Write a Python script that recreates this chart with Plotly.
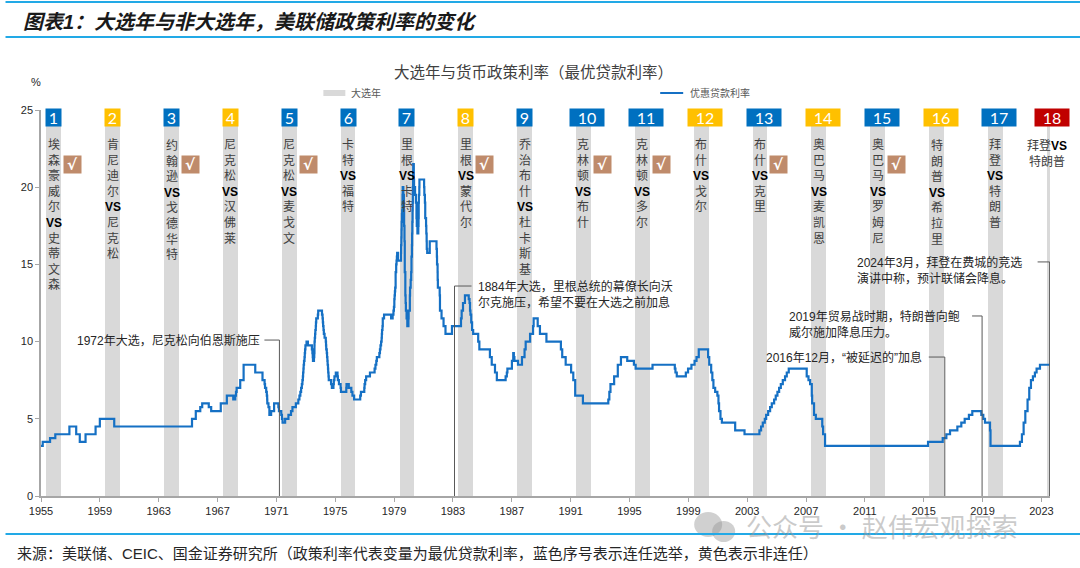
import plotly.graph_objects as go

# ---------------- canvas / plot-area geometry (pixels) ----------------
W, H = 1080, 568
L, R, T, B = 40.5, 1050.0, 110.0, 496.0
PW, PH = R - L, B - T


def px(xp):
    return (xp - L) / PW


def py(yp):
    return (B - yp) / PH


# ---------------- data ----------------
# US bank prime loan rate (%), change points
rate_dates = [
    "1955-08-04", "1955-10-14", "1956-04-13", "1956-08-21", "1957-08-06", "1958-01-22", "1958-04-21",
    "1958-09-11", "1959-05-18", "1959-09-01", "1960-08-23", "1965-12-06", "1966-03-10", "1966-06-29",
    "1966-08-16", "1967-01-26", "1967-03-27", "1967-11-20", "1968-04-19", "1968-09-25", "1968-11-13",
    "1968-12-02", "1968-12-18", "1969-03-17", "1969-06-09", "1970-03-25", "1970-09-21", "1970-11-12",
    "1970-11-23", "1970-12-22", "1971-01-06", "1971-01-15", "1971-01-18", "1971-02-16", "1971-03-11",
    "1971-04-23", "1971-07-06", "1971-10-20", "1971-11-04", "1971-12-31", "1972-01-17", "1972-02-01",
    "1972-04-05", "1972-06-26", "1972-08-29", "1972-10-04", "1972-12-27", "1973-02-26", "1973-03-26",
    "1973-04-18", "1973-05-07", "1973-05-25", "1973-06-08", "1973-06-19", "1973-06-25", "1973-07-03",
    "1973-07-09", "1973-07-18", "1973-07-30", "1973-08-06", "1973-08-13", "1973-08-22", "1973-09-18",
    "1973-10-22", "1974-01-29", "1974-02-11", "1974-02-19", "1974-02-25", "1974-03-22", "1974-03-29",
    "1974-04-03", "1974-04-05", "1974-04-11", "1974-04-19", "1974-04-25", "1974-05-06", "1974-05-10",
    "1974-05-17", "1974-06-26", "1974-07-05", "1974-10-07", "1974-10-21", "1974-10-28", "1974-11-04",
    "1974-11-14", "1974-11-22", "1974-12-10", "1975-01-09", "1975-01-15", "1975-01-20", "1975-02-03",
    "1975-02-10", "1975-02-18", "1975-02-24", "1975-03-05", "1975-03-10", "1975-03-18", "1975-03-24",
    "1975-05-20", "1975-06-09", "1975-07-18", "1975-07-28", "1975-08-12", "1975-09-15", "1975-10-27",
    "1975-11-05", "1975-12-02", "1976-01-12", "1976-01-21", "1976-06-01", "1976-06-07", "1976-08-02",
    "1976-10-04", "1976-11-01", "1976-12-13", "1977-05-13", "1977-05-31", "1977-08-22", "1977-08-29",
    "1977-09-13", "1977-10-07", "1978-01-10", "1978-05-05", "1978-05-26", "1978-06-16", "1978-06-30",
    "1978-08-31", "1978-09-15", "1978-09-28", "1978-10-13", "1978-10-27", "1978-11-01", "1978-11-06",
    "1978-11-17", "1978-11-24", "1978-12-26", "1979-06-19", "1979-07-27", "1979-08-16", "1979-08-28",
    "1979-09-07", "1979-09-14", "1979-09-21", "1979-09-28", "1979-10-09", "1979-10-23", "1979-11-01",
    "1979-11-09", "1979-11-16", "1979-12-07", "1980-02-19", "1980-02-22", "1980-02-29", "1980-03-04",
    "1980-03-07", "1980-03-14", "1980-03-19", "1980-03-28", "1980-04-02", "1980-04-18", "1980-05-01",
    "1980-05-02", "1980-05-07", "1980-05-16", "1980-05-23", "1980-06-06", "1980-06-13", "1980-06-20",
    "1980-07-07", "1980-07-25", "1980-08-22", "1980-08-27", "1980-09-26", "1980-10-01", "1980-10-17",
    "1980-10-29", "1980-11-06", "1980-11-17", "1980-11-21", "1980-11-26", "1980-12-02", "1980-12-05",
    "1980-12-10", "1980-12-16", "1980-12-19", "1981-01-02", "1981-01-09", "1981-02-03", "1981-02-23",
    "1981-03-10", "1981-03-17", "1981-04-02", "1981-04-24", "1981-04-30", "1981-05-04", "1981-05-08",
    "1981-05-19", "1981-05-22", "1981-09-15", "1981-09-21", "1981-10-05", "1981-10-13", "1981-11-03",
    "1981-11-09", "1981-11-17", "1981-11-20", "1981-12-01", "1982-02-02", "1982-07-20", "1982-07-29",
    "1982-08-02", "1982-08-16", "1982-08-18", "1982-08-23", "1982-10-07", "1982-10-14", "1982-11-22",
    "1983-01-11", "1983-02-28", "1983-08-08", "1984-03-19", "1984-04-05", "1984-05-08", "1984-06-25",
    "1984-09-27", "1984-10-17", "1984-10-29", "1984-11-09", "1984-11-28", "1984-12-20", "1985-01-15",
    "1985-05-20", "1985-06-18", "1986-03-07", "1986-04-21", "1986-07-11", "1986-08-26", "1987-04-01",
    "1987-05-01", "1987-05-15", "1987-09-04", "1987-10-07", "1987-10-22", "1987-11-05", "1988-02-02",
    "1988-05-11", "1988-07-14", "1988-08-11", "1988-11-28", "1989-02-10", "1989-02-24", "1989-06-05",
    "1989-07-31", "1990-01-08", "1991-01-02", "1991-02-04", "1991-05-01", "1991-09-13", "1991-11-06",
    "1991-12-23", "1992-07-02", "1994-03-24", "1994-04-19", "1994-05-17", "1994-08-16", "1994-11-15",
    "1995-02-01", "1995-07-07", "1995-12-20", "1996-02-01", "1997-03-26", "1998-09-30", "1998-10-16",
    "1998-11-18", "1999-07-01", "1999-08-25", "1999-11-17", "2000-02-03", "2000-03-22", "2000-05-17",
    "2001-01-04", "2001-02-01", "2001-03-21", "2001-04-19", "2001-05-16", "2001-06-28", "2001-08-22",
    "2001-09-18", "2001-10-03", "2001-11-07", "2001-12-12", "2002-11-07", "2003-06-27", "2004-07-01",
    "2004-08-11", "2004-09-22", "2004-11-11", "2004-12-15", "2005-02-03", "2005-03-23", "2005-05-04",
    "2005-07-01", "2005-08-10", "2005-09-21", "2005-11-02", "2005-12-14", "2006-02-01", "2006-03-29",
    "2006-05-11", "2006-06-29", "2007-09-18", "2007-11-01", "2007-12-11", "2008-01-22", "2008-01-31",
    "2008-03-18", "2008-05-01", "2008-10-08", "2008-10-29", "2008-12-16", "2015-12-17", "2016-12-15",
    "2017-03-16", "2017-06-15", "2017-12-14", "2018-03-22", "2018-06-14", "2018-09-27", "2018-12-20",
    "2019-08-01", "2019-09-19", "2019-10-31", "2020-03-04", "2020-03-16", "2022-03-17", "2022-05-05",
    "2022-06-16", "2022-07-28", "2022-09-22", "2022-11-03", "2022-12-15", "2023-02-02", "2023-03-23",
    "2023-05-04", "2023-07-27", "2024-03-31",
]
rate_values = [
    3.25, 3.50, 3.75, 4.00, 4.50, 4.00, 3.50,
    4.00, 4.50, 5.00, 4.50, 5.00, 5.50, 5.75,
    6.00, 5.75, 5.50, 6.00, 6.50, 6.25, 6.50,
    6.75, 7.00, 7.50, 8.50, 8.00, 7.50, 7.25,
    7.00, 6.75, 6.50, 6.25, 6.00, 5.75, 5.25,
    5.50, 6.00, 5.75, 5.50, 5.25, 5.00, 4.75,
    5.00, 5.25, 5.50, 5.75, 6.00, 6.25, 6.50,
    6.75, 7.00, 7.25, 7.50, 7.75, 8.00, 8.25,
    8.50, 8.75, 9.00, 9.25, 9.50, 9.75, 10.00,
    9.75, 9.50, 9.25, 9.00, 8.75, 9.00, 9.25,
    9.75, 10.00, 10.25, 10.50, 10.75, 11.00, 11.25,
    11.50, 11.75, 12.00, 11.75, 11.50, 11.25, 11.00,
    10.75, 10.50, 10.25, 10.00, 9.75, 9.50, 9.25,
    9.00, 8.75, 8.50, 8.25, 8.00, 7.75, 7.50,
    7.25, 7.00, 7.25, 7.50, 7.75, 8.00, 7.75,
    7.50, 7.25, 7.00, 6.75, 7.00, 7.25, 7.00,
    6.75, 6.50, 6.25, 6.50, 6.75, 7.00, 7.25,
    7.50, 7.75, 8.00, 8.25, 8.50, 8.75, 9.00,
    9.25, 9.50, 9.75, 10.00, 10.25, 10.50, 10.75,
    11.00, 11.50, 11.75, 11.50, 11.75, 12.00, 12.25,
    12.75, 13.00, 13.25, 13.50, 14.50, 15.00, 15.25,
    15.50, 15.75, 15.25, 15.75, 16.25, 16.75, 17.25,
    17.75, 18.25, 18.50, 19.50, 20.00, 19.50, 19.00,
    18.50, 17.50, 16.50, 14.50, 13.00, 12.50, 12.00,
    11.50, 11.00, 11.50, 12.00, 13.00, 13.50, 14.00,
    14.50, 15.50, 16.25, 17.00, 17.75, 18.50, 19.00,
    20.00, 21.00, 21.50, 20.50, 20.00, 19.50, 19.00,
    18.00, 17.50, 17.00, 17.50, 18.00, 19.00, 19.50,
    20.00, 20.50, 20.00, 19.50, 19.00, 18.00, 17.50,
    17.00, 16.50, 16.00, 15.75, 16.50, 16.00, 15.50,
    15.00, 14.50, 14.00, 13.50, 13.00, 12.00, 11.50,
    11.00, 10.50, 11.00, 11.50, 12.00, 12.50, 13.00,
    12.75, 12.50, 12.00, 11.75, 11.25, 10.75, 10.50,
    10.00, 9.50, 9.00, 8.50, 8.00, 7.50, 7.75,
    8.00, 8.25, 8.75, 9.25, 9.00, 8.75, 8.50,
    9.00, 9.50, 10.00, 10.50, 11.00, 11.50, 11.00,
    10.50, 10.00, 9.50, 9.00, 8.50, 8.00, 7.50,
    6.50, 6.00, 6.25, 6.75, 7.25, 7.75, 8.50,
    9.00, 8.75, 8.50, 8.25, 8.50, 8.25, 8.00,
    7.75, 8.00, 8.25, 8.50, 8.75, 9.00, 9.50,
    9.00, 8.50, 8.00, 7.50, 7.00, 6.75, 6.50,
    6.00, 5.50, 5.00, 4.75, 4.25, 4.00, 4.25,
    4.50, 4.75, 5.00, 5.25, 5.50, 5.75, 6.00,
    6.25, 6.50, 6.75, 7.00, 7.25, 7.50, 7.75,
    8.00, 8.25, 7.75, 7.50, 7.25, 6.50, 6.00,
    5.25, 5.00, 4.50, 4.00, 3.25, 3.50, 3.75,
    4.00, 4.25, 4.50, 4.75, 5.00, 5.25, 5.50,
    5.25, 5.00, 4.75, 4.25, 3.25, 3.50, 4.00,
    4.75, 5.50, 6.25, 7.00, 7.50, 7.75, 8.00,
    8.25, 8.50, 8.50,
]

# presidential election years (grey bands) and their labels
election_years = [1956, 1960, 1964, 1968, 1972, 1976, 1980, 1984, 1988,
                  1992, 1996, 2000, 2004, 2008, 2012, 2016, 2020, 2024]
election_type = ["连任", "非连任", "连任", "非连任", "连任", "连任", "连任", "非连任", "连任",
                 "连任", "连任", "非连任", "连任", "非连任", "连任", "非连任", "连任", "当前"]
candidate_a = ["埃森豪威尔", "肯尼迪尔", "约翰逊", "尼克松", "尼克松", "卡特", "里根", "里根", "乔治布什",
               "克林顿", "克林顿", "布什", "布什", "奥巴马", "奥巴马", "特朗普", "拜登", "拜登"]
candidate_b = ["史蒂文森", "尼克松", "戈德华特", "汉佛莱", "麦戈文", "福特", "卡特", "蒙代尔", "杜卡斯基",
               "布什", "多尔", "戈尔", "克里", "麦凯恩", "罗姆尼", "希拉里", "特朗普", "特朗普"]
checked_elections = [1, 3, 5, 8, 10, 11, 13, 15]

# x-axis tick labels
year_labels = ["1955", "1959", "1963", "1967", "1971", "1975", "1979", "1983", "1987",
               "1991", "1995", "1999", "2003", "2007", "2011", "2015", "2019", "2023"]
y_ticks = [0, 5, 10, 15, 20, 25]

# annotated events
event_dates = ["1971-11-15", "1983-10-10", "2017-02-05", "2019-08-20", "2024-03-22"]
event_levels = [10.1, 13.6, 9.0, 11.66, 15.16]
event_texts = [
    "1972年大选，尼克松向伯恩斯施压",
    "1884年大选，里根总统的幕僚长向沃<br>尔克施压，希望不要在大选之前加息",
    "2016年12月，“被延迟的”加息",
    "2019年贸易战时期，特朗普向鲍<br>威尔施加降息压力。",
    "2024年3月，拜登在费城的竞选<br>演讲中称，预计联储会降息。",
]

# ---------------- styles ----------------
CJK = "Liberation Sans, Noto Sans CJK SC"
LINE_BLUE = "#1570C4"
BAND_GREY = "#D9D9D9"
BOX_COLORS = {"连任": "#0070C0", "非连任": "#FFC000", "当前": "#C00000"}
CHECK_BROWN = "#BF8B6B"
BAND_TOP = 24.0
YEAR_MS = 365.25 * 24 * 3600 * 1000
X_END = "2024-04-01"
LAST_VISIBLE = "2024-03-25"
band_x = [f"{y}-07-15" for y in election_years]
tick_dates = [f"{y}-09-01" for y in year_labels]

fig = go.Figure()
fig.add_trace(go.Bar(
    x=band_x, y=[BAND_TOP] * len(band_x), width=[YEAR_MS] * len(band_x),
    marker=dict(color=BAND_GREY, line=dict(width=0)), name="大选年",
    showlegend=False, hoverinfo="skip",
))
fig.add_trace(go.Scatter(
    x=rate_dates, y=rate_values, mode="lines", name="优惠贷款利率",
    line=dict(color=LINE_BLUE, width=2.2, shape="hv"), showlegend=False,
))

ann = []
shapes = []

# number boxes, candidate labels, check marks
for i, yr in enumerate(election_years):
    n = i + 1
    bx = band_x[i]
    two = n >= 10
    box_shift, lab_shift = (4 if two else 0), 0
    if n == 18:
        # band centre lies beyond the axis end: anchor labels at the last visible date
        bx = LAST_VISIBLE
        box_shift, lab_shift = 2, -3
    ann.append(dict(x=bx, y=24.5, xref="x", yref="y", text=str(n), showarrow=False,
                    font=dict(family="Lato, Liberation Sans", size=16, color="white"),
                    bgcolor=BOX_COLORS[election_type[i]], width=34 if two else 15, height=17,
                    borderpad=0, xshift=box_shift, align="center", valign="middle"))
    if n < 18:
        txt = "<br>".join(candidate_a[i]) + "<br><b><span style='color:#000000'>VS</span></b><br>" + \
              "<br>".join(candidate_b[i])
    else:
        txt = candidate_a[i] + "<b><span style='color:#000000'>VS</span></b><br>" + candidate_b[i]
    ann.append(dict(x=bx, y=23.24, xref="x", yref="y", yanchor="top", text=txt, showarrow=False,
                    font=dict(family=CJK, size=12, color="#404040"), align="center", borderpad=0,
                    xshift=lab_shift))
    if n in checked_elections:
        ann.append(dict(x=bx, y=21.45, xref="x", yref="y", text="<b>√</b>", showarrow=False,
                        font=dict(family="DejaVu Sans, Liberation Sans", size=15, color="white"),
                        bgcolor=CHECK_BROWN, width=17, height=17, borderpad=0, xshift=19,
                        align="center", valign="middle"))

# event call-outs
event_side = ["left", "right", "left", "left", "left"]
leader_px = [15, 17, 16, 10, 12]
gap_px = [18, 22, 22, 21, 27]
for d, lvl, txt, side, lp, gp in zip(event_dates, event_levels, event_texts, event_side, leader_px, gap_px):
    lc = dict(color="#595959", width=1)
    shapes.append(dict(type="line", xref="x", yref="y", x0=d, x1=d, y0=0, y1=lvl, line=lc))
    if side == "left":
        shapes.append(dict(type="line", xref="x", yref="y", xsizemode="pixel", xanchor=d,
                           x0=-lp, x1=0, y0=lvl, y1=lvl, line=lc))
    else:
        shapes.append(dict(type="line", xref="x", yref="y", xsizemode="pixel", xanchor=d,
                           x0=0, x1=lp, y0=lvl, y1=lvl, line=lc))
    multi = "<br>" in txt
    ann.append(dict(x=d, y=lvl, xref="x", yref="y", text=txt, showarrow=False,
                    xanchor="right" if side == "left" else "left",
                    xshift=-gp if side == "left" else gp,
                    yanchor="top" if multi else "middle", yshift=8 if multi else 0,
                    align="left", font=dict(family=CJK, size=12, color="#262626"), borderpad=0))

# titles, unit, legend, source, watermark
ann.append(dict(x=px(20), y=py(22), xref="paper", yref="paper", xanchor="left", yanchor="middle",
                text="<b><i>图表1：大选年与非大选年，美联储政策利率的变化</i></b>", showarrow=False,
                font=dict(family=CJK, size=20, color="#1A1A1A")))
ann.append(dict(x=px(533), y=py(72), xref="paper", yref="paper", xanchor="center", yanchor="middle",
                text="大选年与货币政策利率（最优贷款利率）", showarrow=False,
                font=dict(family=CJK, size=15.5, color="#404040")))
ann.append(dict(x=px(35), y=py(82), xref="paper", yref="paper", xanchor="center", yanchor="middle",
                text="%", showarrow=False, font=dict(family="Liberation Sans", size=11, color="#262626")))
shapes.append(dict(type="rect", xref="paper", yref="paper", x0=px(323), x1=px(345), y0=py(96), y1=py(90),
                   fillcolor=BAND_GREY, line=dict(width=0)))
ann.append(dict(x=px(349), y=py(93), xref="paper", yref="paper", xanchor="left", yanchor="middle",
                text="大选年", showarrow=False, font=dict(family=CJK, size=10, color="#595959")))
shapes.append(dict(type="line", xref="paper", yref="paper", x0=px(660), x1=px(683), y0=py(93), y1=py(93),
                   line=dict(color=LINE_BLUE, width=2)))
ann.append(dict(x=px(688), y=py(93), xref="paper", yref="paper", xanchor="left", yanchor="middle",
                text="优惠贷款利率", showarrow=False, font=dict(family=CJK, size=10, color="#595959")))
ann.append(dict(x=px(14), y=py(553), xref="paper", yref="paper", xanchor="left", yanchor="middle",
                text="来源：美联储、CEIC、国金证券研究所（政策利率代表变量为最优贷款利率，蓝色序号表示连任选举，黄色表示非连任）",
                showarrow=False, font=dict(family=CJK, size=15, color="#262626")))
ann.append(dict(x=px(744), y=py(525), xref="paper", yref="paper", xanchor="left", yanchor="middle",
                text="公众号 · 赵伟宏观探索", showarrow=False,
                font=dict(family="Noto Sans CJK SC", size=26, color="rgba(150,150,150,0.5)")))
shapes.append(dict(type="circle", xref="paper", yref="paper", x0=px(694), x1=px(722), y0=py(537), y1=py(512),
                   fillcolor="rgba(150,150,150,0.45)", line=dict(width=0)))
shapes.append(dict(type="circle", xref="paper", yref="paper", x0=px(712), x1=px(735), y0=py(542), y1=py(521),
                   fillcolor="rgba(150,150,150,0.45)", line=dict(width=0)))

# header / footer rules
for yy in (2, 37, 534):
    shapes.append(dict(type="line", xref="paper", yref="paper", x0=px(5), x1=px(1080), y0=py(yy), y1=py(yy),
                       line=dict(color="#22A9E6", width=2)))

fig.update_layout(
    width=W, height=H, autosize=False,
    margin=dict(l=L, r=W - R, t=T, b=H - B, pad=0),
    paper_bgcolor="white", plot_bgcolor="white",
    barmode="overlay", bargap=0,
    xaxis=dict(type="date", range=["1955-09-01", X_END], tickmode="array",
               tickvals=tick_dates, ticktext=year_labels, ticks="outside", ticklen=4,
               tickcolor="#A6A6A6", showline=True, linecolor="#A6A6A6", linewidth=1.5,
               showgrid=False, zeroline=False,
               tickfont=dict(family="Liberation Sans", size=11, color="#262626")),
    yaxis=dict(range=[0, 25], tickmode="array", tickvals=y_ticks, ticks="outside", ticklen=4,
               tickcolor="#A6A6A6", showline=True, linecolor="#A6A6A6", linewidth=1.5,
               showgrid=False, zeroline=False,
               tickfont=dict(family="Liberation Sans", size=11, color="#262626")),
    annotations=ann, shapes=shapes, showlegend=False,
)

fig.write_html("out.html", config={"displayModeBar": False},
               post_script="document.body.style.margin='0px';")
